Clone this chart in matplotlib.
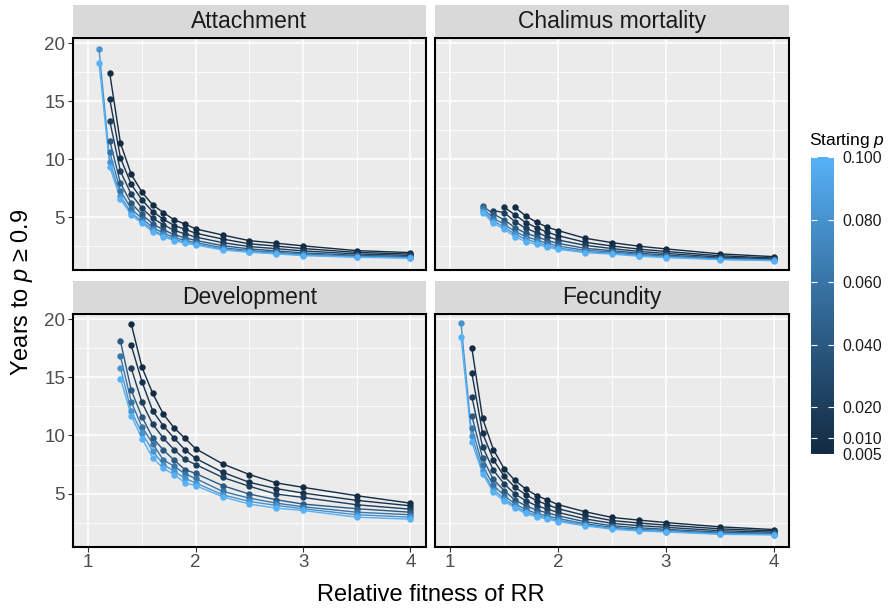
import numpy as np
import matplotlib
matplotlib.use("Agg")
import matplotlib.pyplot as plt
from matplotlib.colors import ListedColormap, Normalize
import matplotlib.cm as cm

plt.rcParams['font.family'] = ['Liberation Sans', 'DejaVu Sans']
plt.rcParams['mathtext.fontset'] = 'custom'
plt.rcParams['mathtext.rm'] = 'Liberation Sans'
plt.rcParams['mathtext.it'] = 'Liberation Sans:italic'

nan = np.nan

# ---------------- data ----------------
x_fitness = [1.1, 1.2, 1.3, 1.4, 1.5, 1.6, 1.7, 1.8, 1.9, 2.0, 2.25, 2.5, 2.75, 3.0, 3.5, 4.0]
start_p = [0.005, 0.01, 0.02, 0.04, 0.06, 0.08, 0.1]
panel_names = ["Attachment", "Chalimus mortality", "Development", "Fecundity"]

# rows: one per fitness value; columns: one per starting p
attachment_years = [
    [nan, nan, nan, nan, nan, 19.5, 18.3],
    [17.4, 15.2, 13.3, 11.6, 10.6, 9.8, 9.35],
    [11.38, 10.1, 8.95, 7.93, 7.27, 6.82, 6.55],
    [8.7, 7.84, 6.98, 6.2, 5.72, 5.39, 5.2],
    [7.16, 6.49, 5.78, 5.24, 4.88, 4.63, 4.48],
    [6.06, 5.48, 4.91, 4.42, 4.1, 3.89, 3.76],
    [5.4, 4.83, 4.35, 3.92, 3.64, 3.44, 3.33],
    [4.77, 4.28, 3.86, 3.49, 3.25, 3.08, 2.98],
    [4.42, 3.97, 3.57, 3.23, 3.01, 2.85, 2.76],
    [3.99, 3.62, 3.29, 3.0, 2.82, 2.69, 2.61],
    [3.47, 3.12, 2.81, 2.55, 2.37, 2.25, 2.18],
    [2.98, 2.71, 2.47, 2.27, 2.13, 2.04, 1.98],
    [2.76, 2.51, 2.29, 2.1, 1.98, 1.89, 1.84],
    [2.53, 2.3, 2.1, 1.93, 1.82, 1.74, 1.69],
    [2.12, 1.97, 1.83, 1.71, 1.64, 1.58, 1.55],
    [1.95, 1.82, 1.71, 1.61, 1.54, 1.5, 1.47],
]

chalimus_years = [
    [nan, nan, nan, nan, nan, nan, nan],
    [nan, nan, nan, nan, nan, nan, nan],
    [nan, nan, nan, 5.97, 5.78, 5.57, 5.4],
    [nan, nan, 5.57, 5.28, 4.91, 4.68, 4.48],
    [nan, 5.86, 5.4, 4.77, 4.4, 4.14, 3.97],
    [5.86, 5.2, 4.62, 4.11, 3.76, 3.53, 3.33],
    [5.11, 4.54, 4.05, 3.62, 3.33, 3.1, 2.9],
    [4.57, 4.11, 3.67, 3.33, 3.04, 2.84, 2.67],
    [4.14, 3.7, 3.33, 2.98, 2.75, 2.55, 2.41],
    [3.85, 3.41, 3.04, 2.75, 2.52, 2.35, 2.23],
    [3.19, 2.84, 2.58, 2.32, 2.15, 2.02, 1.95],
    [2.81, 2.52, 2.3, 2.12, 2.0, 1.9, 1.82],
    [2.5, 2.25, 2.05, 1.9, 1.79, 1.7, 1.64],
    [2.27, 2.05, 1.88, 1.74, 1.64, 1.57, 1.52],
    [1.84, 1.68, 1.56, 1.47, 1.41, 1.37, 1.35],
    [1.6, 1.48, 1.4, 1.34, 1.3, 1.27, 1.26],
]

development_years = [
    [nan, nan, nan, nan, nan, nan, nan],
    [nan, nan, nan, nan, nan, nan, nan],
    [nan, nan, nan, 18.1, 16.8, 15.8, 14.9],
    [19.6, 17.75, 15.8, 13.9, 12.9, 12.1, 11.7],
    [15.87, 14.63, 12.84, 11.6, 10.74, 10.2, 9.73],
    [13.62, 12.12, 10.97, 9.81, 9.29, 8.66, 8.08],
    [11.83, 10.82, 9.76, 8.74, 7.88, 7.5, 7.16],
    [10.65, 9.76, 8.77, 7.88, 7.36, 6.93, 6.64],
    [9.76, 8.77, 7.94, 7.07, 6.7, 6.3, 5.92],
    [8.86, 8.03, 7.5, 6.73, 6.3, 5.92, 5.69],
    [7.56, 6.84, 6.4, 5.69, 5.19, 4.9, 4.73],
    [6.64, 5.97, 5.63, 4.96, 4.61, 4.33, 4.1],
    [5.92, 5.43, 4.96, 4.47, 4.18, 3.98, 3.75],
    [5.54, 5.05, 4.67, 4.1, 3.87, 3.7, 3.55],
    [4.82, 4.42, 4.04, 3.7, 3.4, 3.18, 2.97],
    [4.18, 3.95, 3.66, 3.4, 3.18, 2.97, 2.8],
]

fecundity_years = [
    [nan, nan, nan, nan, nan, 19.65, 18.47],
    [17.54, 15.38, 13.35, 11.7, 10.66, 9.94, 9.45],
    [11.47, 10.2, 9.04, 8.07, 7.42, 6.97, 6.71],
    [8.79, 7.92, 7.02, 6.22, 5.7, 5.34, 5.12],
    [7.14, 6.5, 5.84, 5.26, 4.83, 4.54, 4.34],
    [6.13, 5.55, 4.97, 4.45, 4.1, 3.9, 3.76],
    [5.4, 4.91, 4.39, 3.96, 3.64, 3.44, 3.29],
    [4.83, 4.39, 3.96, 3.58, 3.3, 3.13, 3.0],
    [4.45, 4.05, 3.67, 3.35, 3.08, 2.92, 2.8],
    [4.05, 3.7, 3.38, 3.09, 2.86, 2.71, 2.6],
    [3.44, 3.12, 2.83, 2.58, 2.41, 2.3, 2.23],
    [2.95, 2.68, 2.44, 2.24, 2.1, 2.0, 1.94],
    [2.72, 2.47, 2.25, 2.06, 1.93, 1.84, 1.79],
    [2.51, 2.29, 2.1, 1.93, 1.82, 1.74, 1.7],
    [2.14, 1.97, 1.81, 1.68, 1.6, 1.54, 1.5],
    [1.91, 1.79, 1.68, 1.58, 1.52, 1.48, 1.45],
]

panel_data = [attachment_years, chalimus_years, development_years, fecundity_years]

x_ticks = [1, 2, 3, 4]
y_ticks = [5, 10, 15, 20]
cbar_ticks = [0.005, 0.01, 0.02, 0.04, 0.06, 0.08, 0.1]
cbar_labels = ["0.005", "0.010", "0.020", "0.040", "0.060", "0.080", "0.100"]

# ---------------- colour scale (ggplot default, Lab interpolation) ----------------
def hex_to_rgb(h):
    h = h.lstrip('#')
    return np.array([int(h[i:i + 2], 16) / 255 for i in (0, 2, 4)])

M = np.array([[0.4124564, 0.3575761, 0.1804375],
              [0.2126729, 0.7151522, 0.0721750],
              [0.0193339, 0.1191920, 0.9503041]])
WHITE = np.array([0.95047, 1.0, 1.08883])

def rgb_to_lab(rgb):
    lin = np.where(rgb <= 0.04045, rgb / 12.92, ((rgb + 0.055) / 1.055) ** 2.4)
    xyz = M @ lin / WHITE
    f = np.where(xyz > (6 / 29) ** 3, np.cbrt(xyz), xyz / (3 * (6 / 29) ** 2) + 4 / 29)
    return np.array([116 * f[1] - 16, 500 * (f[0] - f[1]), 200 * (f[1] - f[2])])

def lab_to_rgb(lab):
    fy = (lab[0] + 16) / 116
    fx = fy + lab[1] / 500
    fz = fy - lab[2] / 200
    f = np.array([fx, fy, fz])
    xyz = np.where(f > 6 / 29, f ** 3, 3 * (6 / 29) ** 2 * (f - 4 / 29)) * WHITE
    lin = np.linalg.solve(M, xyz)
    lin = np.clip(lin, 0, 1)
    rgb = np.where(lin <= 0.0031308, 12.92 * lin, 1.055 * lin ** (1 / 2.4) - 0.055)
    return np.clip(rgb, 0, 1)

lab_lo = rgb_to_lab(hex_to_rgb("#132B43"))
lab_hi = rgb_to_lab(hex_to_rgb("#56B1F7"))
cmap = ListedColormap([lab_to_rgb(lab_lo + t * (lab_hi - lab_lo)) for t in np.linspace(0, 1, 256)])
norm = Normalize(vmin=min(start_p), vmax=max(start_p))

# ---------------- layout ----------------
W, H = 892, 611
fig = plt.figure(figsize=(W / 100, H / 100), dpi=100)

def px_axes(x0, y0, x1, y1):
    return fig.add_axes([x0 / W, 1 - y1 / H, (x1 - x0) / W, (y1 - y0) / H])

cols = [(72.7, 426.0), (434.6, 789.4)]
rows = [(38.0, 270.0), (314.0, 546.5)]
strip_rows = [(5.0, 37.0), (281.0, 313.0)]

tick_col = "#333333"
lab_col = "#4D4D4D"

for k, name in enumerate(panel_names):
    r, c = divmod(k, 2)
    x0, x1 = cols[c]
    y0, y1 = rows[r]
    ax = px_axes(x0, y0, x1, y1)
    ax.set_facecolor("#EBEBEB")
    ax.set_xlim(0.855, 4.145)
    ax.set_ylim(0.45, 20.45)
    ax.set_xticks(x_ticks)
    ax.set_yticks(y_ticks)
    ax.set_xticks([1.5, 2.5, 3.5], minor=True)
    ax.set_yticks([2.5, 7.5, 12.5, 17.5], minor=True)
    ax.grid(which='major', color='white', lw=1.1)
    ax.grid(which='minor', color='white', lw=0.55)
    ax.set_axisbelow(True)
    for sp in ax.spines.values():
        sp.set_color('black')
        sp.set_linewidth(1.5)
    ax.tick_params(which='minor', length=0)
    ax.tick_params(which='major', color=tick_col, length=3.5, width=0.8,
                   labelcolor=lab_col, labelsize=13.5, pad=2)
    if c != 0:
        ax.tick_params(axis='y', left=False, labelleft=False)
    if r != 1:
        ax.tick_params(axis='x', bottom=False, labelbottom=False)

    arr = np.array(panel_data[k], dtype=float)
    for j, p in enumerate(start_p):
        ax.plot(x_fitness, arr[:, j], color=cmap(norm(p)), lw=1.0, zorder=2)
    for j, p in enumerate(start_p):
        ax.plot(x_fitness, arr[:, j], ls='none', marker='o', ms=4.6,
                mec='none', mfc=cmap(norm(p)), zorder=3)

    # strip
    sy0, sy1 = strip_rows[r]
    sax = px_axes(x0, sy0, x1, sy1)
    sax.set_facecolor("#D9D9D9")
    sax.set_xticks([])
    sax.set_yticks([])
    for sp in sax.spines.values():
        sp.set_visible(False)
    sax.text(0.5, 0.47, name, ha='center', va='center', size=16.5,
             color='#1A1A1A', transform=sax.transAxes)

# axis titles
fig.text(431 / W, 1 - 595 / H, "Relative fitness of RR", ha='center', va='center',
         size=17, color='black')
fig.text(22 / W, 1 - 292 / H, "Years to $\\mathit{p}$ \u2265 0.9", ha='center', va='center',
         rotation=90, size=17, color='black')

# colour bar
cax = px_axes(811, 157, 834, 454)
sm = cm.ScalarMappable(norm=norm, cmap=cmap)
cb = fig.colorbar(sm, cax=cax, ticks=cbar_ticks)
cb.ax.set_yticklabels(cbar_labels)
cb.outline.set_visible(False)
cb.ax.minorticks_off()
cb.ax.tick_params(which='major', direction='in', color='white', length=4, width=0.8,
                  left=True, right=True, labelsize=11.3, labelcolor='#1A1A1A', pad=6)
fig.text(809 / W, 1 - 140 / H, "Starting $\\mathit{p}$", ha='left', va='center',
         size=12.5, color='black')

fig.savefig("out.png", dpi=100)
